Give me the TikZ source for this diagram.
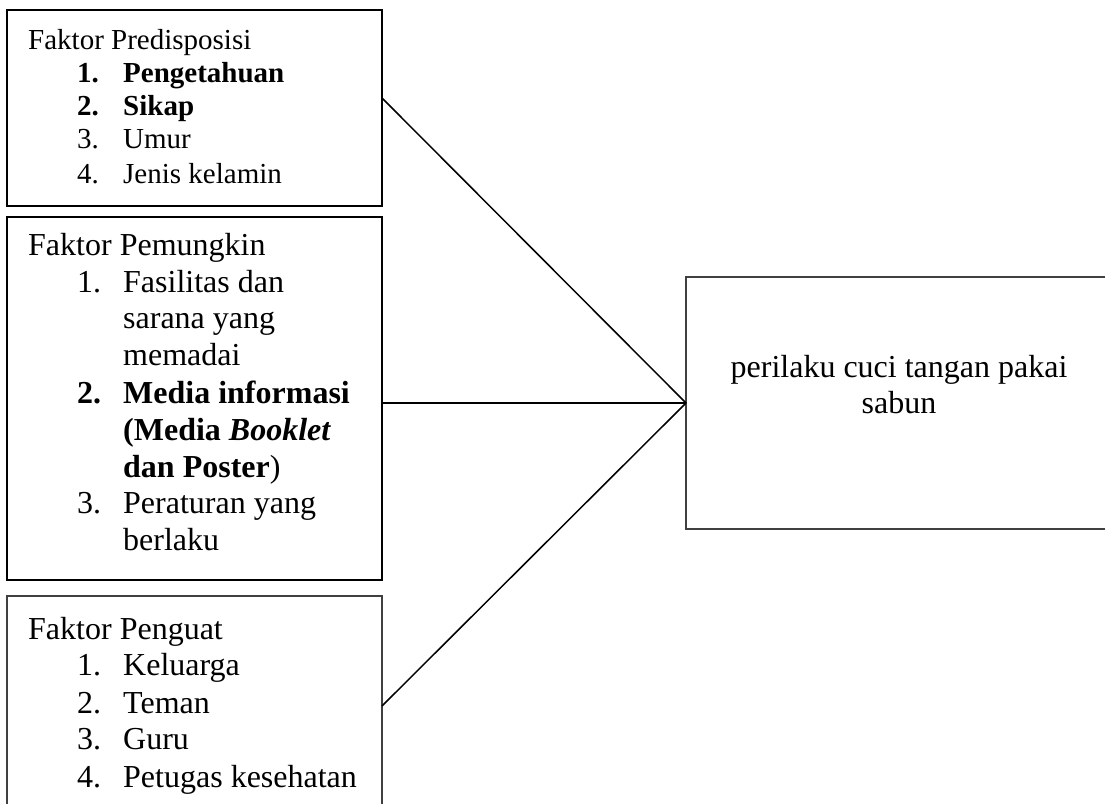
\documentclass[tikz,border=0pt]{standalone}
\usepackage{fontspec}
\setmainfont{Liberation Serif}
\begin{document}
\begin{tikzpicture}[x=1pt,y=-1pt,
  thickbox/.style={draw=black,line width=2pt},
  thinbox/.style={draw=black!75,line width=1.1pt},
  link/.style={draw=black,line width=1.5pt},
  txt/.style={inner sep=0pt,anchor=base west,font=\fontsize{29}{33}\selectfont},
  btxt/.style={inner sep=0pt,anchor=base west,font=\fontsize{32}{36}\selectfont},
  ctxt/.style={inner sep=0pt,anchor=base,font=\fontsize{32}{36}\selectfont}]
\useasboundingbox (0,0) rectangle (1105,803);
% boxes
\draw[thickbox] (7,10) rectangle (382,206);
\draw[thickbox] (7,217) rectangle (382,580);
\draw[thinbox] (7,596) rectangle (382,820);
\draw[thinbox] (686,277) rectangle (1115,529);
\coordinate (goal) at (686,403);
\coordinate (p1) at (382,98);
\coordinate (p2) at (382,403);
\coordinate (p3) at (382,706);
% connectors
\draw[link] (p1) -- (goal);
\draw[link] (p2) -- (goal);
\draw[link] (p3) -- (goal);
% box 1
\node[txt] (a0) at (28,49) {Faktor Predisposisi};
\node[txt] (a1n) at (77,82) {\bfseries 1.};
\node[txt] (a1) at (123,82) {\bfseries Pengetahuan};
\node[txt] (a2n) at (77,115) {\bfseries 2.};
\node[txt] (a2) at (123,115) {\bfseries Sikap};
\node[txt] (a3n) at (77,148) {3.};
\node[txt] (a3) at (123,148) {Umur};
\node[txt] (a4n) at (77,183) {4.};
\node[txt] (a4) at (123,183) {Jenis kelamin};
% box 2
\node[btxt] (b0) at (28,255) {Faktor Pemungkin};
\node[btxt] (b1n) at (77,292) {1.};
\node[btxt] (b1a) at (123,292) {Fasilitas dan};
\node[btxt] (b1b) at (123,328) {sarana yang};
\node[btxt] (b1c) at (123,365) {memadai};
\node[btxt] (b2n) at (77,403) {\bfseries 2.};
\node[btxt] (b2a) at (123,403) {\bfseries Media informasi};
\node[btxt] (b2b) at (123,440) {\bfseries (Media \itshape Booklet};
\node[btxt] (b2c) at (123,477) {\bfseries dan Poster\mdseries)};
\node[btxt] (b3n) at (77,513) {3.};
\node[btxt] (b3a) at (123,513) {Peraturan yang};
\node[btxt] (b3b) at (123,550) {berlaku};
% box 3
\node[btxt] (c0) at (28,639) {Faktor Penguat};
\node[btxt] (c1n) at (77,675) {1.};
\node[btxt] (c1) at (123,675) {Keluarga};
\node[btxt] (c2n) at (77,713) {2.};
\node[btxt] (c2) at (123,713) {Teman};
\node[btxt] (c3n) at (77,749) {3.};
\node[btxt] (c3) at (123,749) {Guru};
\node[btxt] (c4n) at (77,787) {4.};
\node[btxt] (c4) at (123,787) {Petugas kesehatan};
% goal box text
\node[ctxt] (g1) at (899,377) {perilaku cuci tangan pakai};
\node[ctxt] (g2) at (899,413) {sabun};
\end{tikzpicture}
\end{document}
